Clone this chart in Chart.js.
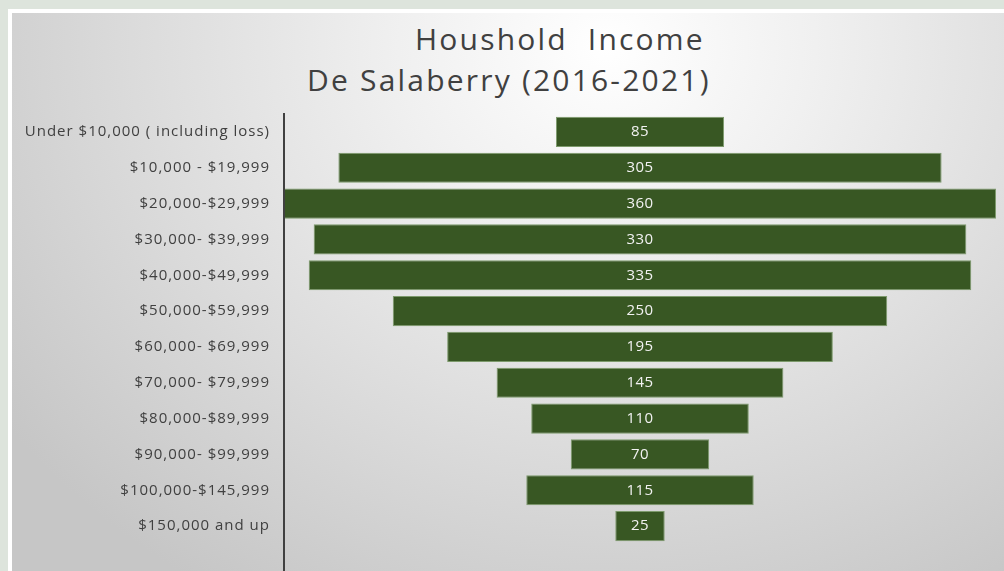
<!DOCTYPE html>
<html>
<head>
<meta charset="utf-8">
<script src="https://cdn.jsdelivr.net/npm/chart.js@4.4.1/dist/chart.umd.min.js"></script>
<style>
  html, body { margin: 0; padding: 0; }
  body {
    width: 1004px;
    height: 571px;
    background: #dde4dc;
    position: relative;
    overflow: hidden;
  }
  #frame {
    position: absolute;
    left: 8px;
    top: 9px;
    width: 1000px;
    height: 570px;
    background: #ffffff;
  }
  #panel {
    position: absolute;
    left: 12px;
    top: 13px;
    width: 992px;
    height: 558px;
    background: radial-gradient(ellipse 75% 115% at 60% 6%, #ffffff 0%, #f0f0f0 28%, #c6c6c6 100%);
  }
  .title {
    position: absolute;
    font-family: 'Open Sans', sans-serif;
    color: #404040;
    font-size: 30px;
    letter-spacing: 2.2px;
    white-space: pre;
    line-height: 1;
  }
  #title1 { left: 415px; top: 24px; }
  #title2 { left: 307px; top: 65px; }
  #chartWrap {
    position: absolute;
    left: 0;
    top: 0;
    width: 1004px;
    height: 571px;
  }
</style>
</head>
<body>
<div id="frame"></div>
<div id="panel"></div>
<div class="title" id="title1">Houshold  Income</div>
<div class="title" id="title2">De Salaberry (2016-2021)</div>
<div id="chartWrap"><canvas id="incomeChart"></canvas></div>
<script>
const categories = [
  'Under $10,000 ( including loss)',
  '$10,000 - $19,999',
  '$20,000-$29,999',
  '$30,000- $39,999',
  '$40,000-$49,999',
  '$50,000-$59,999',
  '$60,000- $69,999',
  '$70,000- $79,999',
  '$80,000-$89,999',
  '$90,000- $99,999',
  '$100,000-$145,999',
  '$150,000 and up'
];

const households = [85, 305, 360, 330, 335, 250, 195, 145, 110, 70, 115, 25];

const barColor = '#385723';
const textColor = '#404040';

// funnel: every bar is centred on zero
const funnelData = households.map((v) => [-v / 2, v / 2]);

// the source font is wider than anything installed, so space the letters a bit
const spacingPlugin = {
  id: 'letterSpacing',
  beforeLayout: (chart) => { chart.ctx.letterSpacing = '1px'; },
  beforeDraw: (chart) => { chart.ctx.letterSpacing = '1px'; }
};

const axisLinePlugin = {
  id: 'axisLine',
  afterDraw: (chart) => {
    const { ctx, chartArea } = chart;
    ctx.save();
    ctx.strokeStyle = textColor;
    ctx.lineWidth = 2;
    ctx.beginPath();
    ctx.moveTo(chartArea.left, chartArea.top - 1);
    ctx.lineTo(chartArea.left, chart.height);
    ctx.stroke();
    ctx.restore();
  }
};

const valueLabelPlugin = {
  id: 'valueLabels',
  afterDatasetsDraw: (chart) => {
    const { ctx } = chart;
    const meta = chart.getDatasetMeta(0);
    ctx.save();
    ctx.letterSpacing = '0.5px';
    ctx.fillStyle = '#f2f2f2';
    ctx.font = '15px "Open Sans", sans-serif';
    ctx.textAlign = 'center';
    ctx.textBaseline = 'middle';
    meta.data.forEach((bar, index) => {
      const cx = (bar.x + bar.base) / 2;
      ctx.fillText(String(households[index]), cx, bar.y);
    });
    ctx.restore();
  }
};

const ctx = document.getElementById('incomeChart');
new Chart(ctx, {
  type: 'bar',
  data: {
    labels: categories,
    datasets: [{
      data: funnelData,
      backgroundColor: barColor,
      borderColor: '#7d9a6c',
      borderWidth: 1,
      borderSkipped: false,
      barPercentage: 0.84,
      categoryPercentage: 1
    }]
  },
  options: {
    indexAxis: 'y',
    responsive: true,
    maintainAspectRatio: false,
    animation: false,
    layout: {
      padding: { top: 114, right: 8, bottom: 27, left: 0 }
    },
    plugins: {
      legend: { display: false },
      tooltip: { enabled: false }
    },
    scales: {
      x: {
        display: false,
        min: -180,
        max: 180
      },
      y: {
        afterFit: (scale) => {
          scale.width = 284;
        },
        grid: { display: false, drawTicks: false },
        border: { display: false },
        ticks: {
          color: textColor,
          padding: 14,
          font: { family: '"Open Sans", sans-serif', size: 15 }
        }
      }
    }
  },
  plugins: [spacingPlugin, axisLinePlugin, valueLabelPlugin]
});
</script>
</body>
</html>
